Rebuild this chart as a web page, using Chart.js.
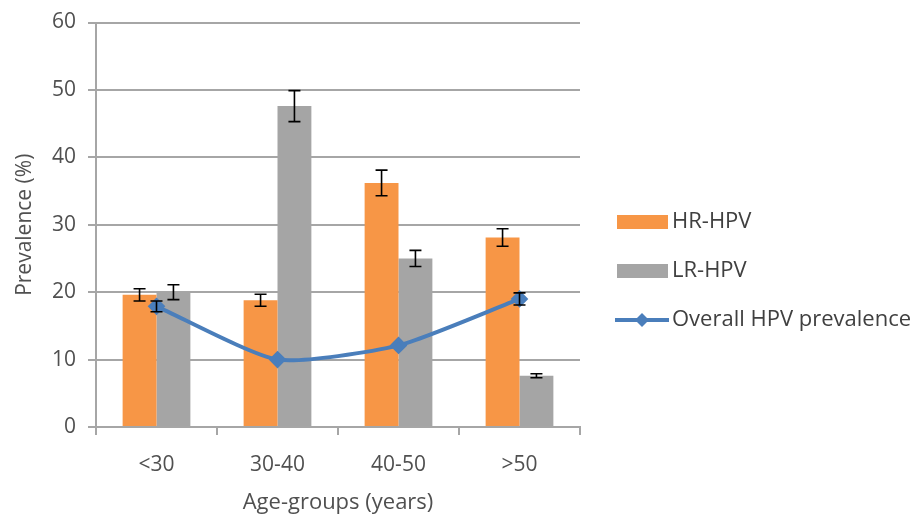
<!DOCTYPE html>
<html>
<head>
<meta charset="utf-8">
<script src="https://cdn.jsdelivr.net/npm/chart.js@4/dist/chart.umd.min.js"></script>
<style>
  html, body { margin: 0; padding: 0; background: #fff; }
  #wrap { width: 921px; height: 520px; }
</style>
</head>
<body>
<div id="wrap"><canvas id="hpv-chart"></canvas></div>
<script>
// chart data
var ageGroups = ["<30", "30-40", "40-50", ">50"];
var hrHpv = [19.6, 18.8, 36.2, 28.1];
var hrHpvErr = [0.9, 0.9, 1.9, 1.3];
var lrHpv = [20.0, 47.6, 25.0, 7.6];
var lrHpvErr = [1.1, 2.3, 1.2, 0.3];
var overallHpv = [17.9, 10.0, 12.1, 19.0];
var overallHpvErr = [0.8, 0, 0, 0.9];
var yTicks = [0, 10, 20, 30, 40, 50, 60];

var textColor = "#505050";
var gridColor = "#a6a6a6";
var fontFam = "'Open Sans', 'DejaVu Sans', sans-serif";

// error bars drawn on top of the marks, through the chart scales
var errorBars = {
  id: "errorBars",
  afterDatasetsDraw: function(chart) {
    var ctx = chart.ctx;
    var yScale = chart.scales.y;
    ctx.save();
    ctx.strokeStyle = "#000";
    ctx.lineWidth = 1.6;
    chart.data.datasets.forEach(function(ds, i) {
      if (!ds.errors) return;
      var meta = chart.getDatasetMeta(i);
      meta.data.forEach(function(el, j) {
        var err = ds.errors[j];
        if (!err) return;
        var v = ds.data[j];
        var top = yScale.getPixelForValue(v + err);
        var bot = yScale.getPixelForValue(v - err);
        var x = el.x;
        ctx.beginPath();
        ctx.moveTo(x, top); ctx.lineTo(x, bot);
        ctx.moveTo(x - 6, top); ctx.lineTo(x + 6, top);
        ctx.moveTo(x - 6, bot); ctx.lineTo(x + 6, bot);
        ctx.stroke();
      });
    });
    ctx.restore();
  }
};

// legend to the right, like the original
var sideLegend = {
  id: "sideLegend",
  afterDraw: function(chart) {
    var ctx = chart.ctx;
    var x0 = 617, y0 = 222, gap = 49;
    ctx.save();
    ctx.font = "22px " + fontFam;
    ctx.textBaseline = "middle";
    chart.data.datasets.forEach(function(ds, i) {
      var y = y0 + i * gap;
      if (ds.type === "line") {
        ctx.strokeStyle = ds.borderColor;
        ctx.lineWidth = 4;
        ctx.beginPath(); ctx.moveTo(x0 - 2, y); ctx.lineTo(x0 + 52, y); ctx.stroke();
        ctx.fillStyle = ds.borderColor;
        ctx.beginPath();
        ctx.moveTo(x0 + 25, y - 7); ctx.lineTo(x0 + 32, y);
        ctx.lineTo(x0 + 25, y + 7); ctx.lineTo(x0 + 18, y);
        ctx.closePath(); ctx.fill();
        ctx.fillStyle = "#404040";
        ctx.fillText(ds.label, x0 + 55, y);
      } else {
        ctx.fillStyle = ds.backgroundColor;
        ctx.fillRect(x0, y - 7, 51, 14);
        ctx.fillStyle = "#404040";
        ctx.fillText(ds.label, x0 + 55, y);
      }
    });
    ctx.restore();
  }
};

new Chart(document.getElementById("hpv-chart"), {
  type: "bar",
  data: {
    labels: ageGroups,
    datasets: [{
      label: "HR-HPV",
      data: hrHpv,
      errors: hrHpvErr,
      backgroundColor: "#f79646",
      order: 1
    }, {
      label: "LR-HPV",
      data: lrHpv,
      errors: lrHpvErr,
      backgroundColor: "#a5a5a5",
      order: 1
    }, {
      type: "line",
      label: "Overall HPV prevalence",
      data: overallHpv,
      errors: overallHpvErr,
      borderColor: "#4a7ebb",
      backgroundColor: "#4a7ebb",
      borderWidth: 4,
      pointStyle: "rectRot",
      pointRadius: 6,
      pointHoverRadius: 6,
      tension: 0.2,
      fill: false,
      order: 0
    }]
  },
  options: {
    responsive: true,
    maintainAspectRatio: false,
    animation: false,
    layout: { padding: { top: 20, right: 341, left: 0, bottom: 0 } },
    datasets: { bar: { categoryPercentage: 0.56, barPercentage: 1 } },
    plugins: {
      legend: { display: false },
      tooltip: { enabled: false }
    },
    scales: {
      x: {
        offset: true,
        grid: { display: true, drawOnChartArea: false, drawTicks: true, tickLength: 8, color: gridColor, lineWidth: 2, offset: true },
        border: { color: gridColor, width: 2 },
        ticks: { color: textColor, font: { family: fontFam, size: 21 }, padding: 17 },
        title: { display: true, text: "Age-groups (years)", color: textColor, font: { family: fontFam, size: 22 }, padding: { top: 8, bottom: 4 } },
        afterFit: function(s) { s.height = 93; }
      },
      y: {
        min: 0,
        max: 60,
        afterBuildTicks: function(s) { s.ticks = yTicks.map(function(v) { return { value: v }; }); },
        grid: { color: gridColor, lineWidth: 2, tickLength: 8 },
        border: { color: gridColor, width: 2 },
        ticks: { color: textColor, font: { family: fontFam, size: 21, lineHeight: 1 }, padding: 12 },
        title: { display: true, text: "Prevalence (%)", color: textColor, font: { family: fontFam, size: 21 }, padding: { top: 12, bottom: 4 } },
        afterFit: function(s) { s.width = 96; }
      }
    }
  },
  plugins: [errorBars, sideLegend]
});
</script>
</body>
</html>
